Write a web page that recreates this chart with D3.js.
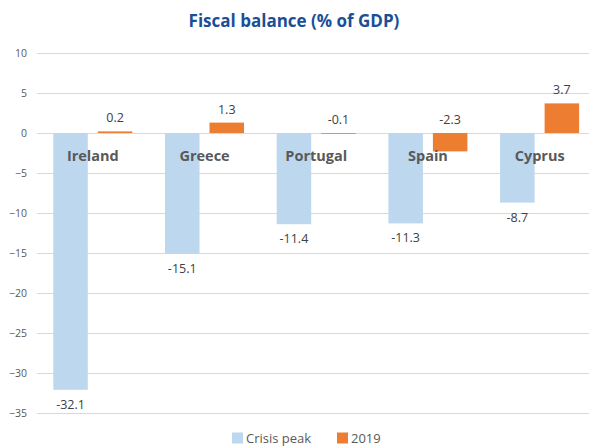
<!DOCTYPE html>
<html>
<head>
<meta charset="utf-8">
<script src="https://cdn.jsdelivr.net/npm/d3@7"></script>
<style>
  html, body { margin: 0; padding: 0; background: #fff; }
  svg { display: block; font-family: "Open Sans", "DejaVu Sans", sans-serif; }
</style>
</head>
<body>
<svg id="chart" width="589" height="447"></svg>
<script>
// Fiscal balance, % of GDP
const countries = ["Ireland", "Greece", "Portugal", "Spain", "Cyprus"];
const seriesNames = ["Crisis peak", "2019"];
const crisisPeak = [-32.1, -15.1, -11.4, -11.3, -8.7];
const year2019 = [0.2, 1.3, -0.1, -2.3, 3.7];
const yTicks = [10, 5, 0, -5, -10, -15, -20, -25, -30, -35];

const colors = { "Crisis peak": "#BDD7EE", "2019": "#ED7D31" };

const svg = d3.select("#chart");
const W = 589, H = 447;

const y = d3.scaleLinear().domain([-35, 10]).range([413, 53]);
const x0 = d3.scaleBand().domain(countries).range([37, 595.5]);
const x1 = d3.scaleBand().domain(seriesNames).range([16.3, 95.3]).paddingInner(0.225);

// title
svg.append("text")
  .attr("x", 294).attr("y", 27)
  .attr("text-anchor", "middle")
  .attr("font-size", 17).attr("font-weight", "bold")
  .attr("fill", "#1A4F96")
  .text("Fiscal balance (% of GDP)");

// gridlines
svg.append("g").selectAll("line").data(yTicks).join("line")
  .attr("x1", 37).attr("x2", W)
  .attr("y1", d => y(d)).attr("y2", d => y(d))
  .attr("stroke", "#D9D9D9").attr("stroke-width", 1)
  .attr("shape-rendering", "crispEdges");

// y axis labels
const yAxis = d3.axisLeft(y).tickValues(yTicks).tickSize(0).tickPadding(0);
const gy = svg.append("g").attr("transform", "translate(27,0)").call(yAxis);
gy.select(".domain").remove();
gy.selectAll("text")
  .attr("font-family", "\"Open Sans\", sans-serif")
  .attr("font-size", 10.5).attr("fill", "#595959");

// bars
const rows = countries.map((c, i) => ({ country: c, values: [
  { series: "Crisis peak", value: crisisPeak[i] },
  { series: "2019", value: year2019[i] }
]}));

const groups = svg.append("g").selectAll("g").data(rows).join("g")
  .attr("transform", d => `translate(${x0(d.country)},0)`);

groups.selectAll("rect").data(d => d.values).join("rect")
  .attr("x", d => x1(d.series))
  .attr("width", x1.bandwidth())
  .attr("y", d => y(Math.max(0, d.value)))
  .attr("height", d => Math.abs(y(d.value) - y(0)))
  .attr("fill", d => colors[d.series]);

// value labels
groups.selectAll("text.val").data(d => d.values).join("text")
  .attr("class", "val")
  .attr("x", d => x1(d.series) + x1.bandwidth() / 2)
  .attr("y", d => d.series === "Crisis peak"
      ? y(Math.min(0, d.value)) + 19
      : y(Math.max(0, d.value)) - 9)
  .attr("text-anchor", "middle")
  .attr("font-size", 12.5).attr("fill", "#404040")
  .text(d => d3.format(".1f")(d.value).replace("−", "-"));

// category labels
svg.append("g").selectAll("text").data(countries).join("text")
  .attr("x", d => x0(d) + x0.bandwidth() / 2)
  .attr("y", 161)
  .attr("text-anchor", "middle")
  .attr("font-size", 14.5).attr("font-weight", "bold")
  .attr("fill", "#595959")
  .text(d => d);

// legend
const legend = svg.append("g").attr("transform", "translate(232,432.5)");
const items = [
  { name: "Crisis peak", dx: 0 },
  { name: "2019", dx: 105 }
];
const li = legend.selectAll("g").data(items).join("g")
  .attr("transform", d => `translate(${d.dx},0)`);
li.append("rect").attr("width", 11).attr("height", 11)
  .attr("fill", d => colors[d.name]);
li.append("text").attr("x", 14).attr("y", 10.5)
  .attr("font-size", 13).attr("fill", "#595959")
  .text(d => d.name);
</script>
</body>
</html>
